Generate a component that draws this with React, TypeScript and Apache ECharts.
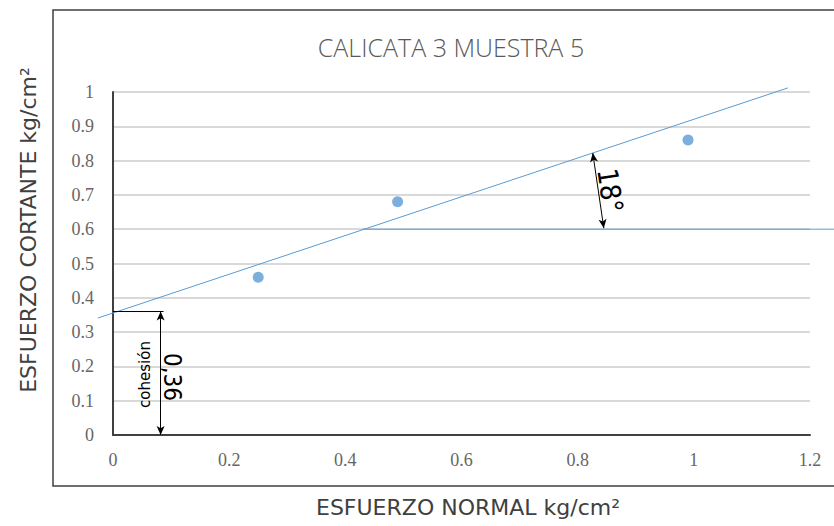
import React, { useEffect, useRef } from "react";
import * as echarts from "echarts";

const normalStress = [0.25, 0.49, 0.99];
const shearStress = [0.46, 0.68, 0.86];
const trendX = [-0.026, 1.162];
const trendY = [0.341, 1.012];
const horizX = [0.43, 1.245];
const horizY = [0.6, 0.6];
const cohesion = 0.36;
const bracketX = 0.082;
const angleArrowStart = [0.826, 0.822];
const angleArrowEnd = [0.845, 0.603];
const angleLabel = "18°";
const cohesionLabel = "0,36";

const BLUE = "#5b9bd5";
const GRAY = "#595959";

export default function App() {
  const ref = useRef<HTMLDivElement>(null);
  useEffect(() => {
    document.body.style.margin = "0";
    const chart = echarts.init(ref.current!, null, { renderer: "svg" });
    chart.setOption({
      animation: false,
      backgroundColor: "#ffffff",
      grid: { left: 113, right: 24, top: 92, bottom: 91 },
      xAxis: {
        type: "value",
        min: 0,
        max: 1.2,
        interval: 0.2,
        axisLine: { show: true, onZero: false, lineStyle: { color: "#404040", width: 2 } },
        axisTick: { show: false },
        splitLine: { show: false },
        axisLabel: {
          color: "#666666",
          fontFamily: "'Liberation Serif', serif",
          fontSize: 18,
          margin: 16,
          formatter: (v: number) => String(Math.round(v * 10) / 10),
        },
      },
      yAxis: {
        type: "value",
        min: 0,
        max: 1,
        interval: 0.1,
        axisLine: { show: true, lineStyle: { color: "#404040", width: 2 } },
        axisTick: { show: false },
        splitLine: { show: true, lineStyle: { color: "#d9d9d9", width: 2 } },
        axisLabel: {
          color: "#666666",
          fontFamily: "'Liberation Serif', serif",
          fontSize: 18,
          margin: 19,
          formatter: (v: number) => String(Math.round(v * 10) / 10),
        },
      },
      series: [
        {
          type: "line",
          data: [
            [0, cohesion],
            [bracketX + 0.005, cohesion],
          ],
          symbol: "none",
          lineStyle: { color: "#000", width: 1 },
          z: 4,
          markLine: {
            silent: true,
            symbol: ["arrow", "arrow"],
            symbolSize: [6, 9],
            label: { show: false },
            lineStyle: { color: "#000", width: 1, type: "solid" },
            data: [
              [{ coord: [bracketX, cohesion] }, { coord: [bracketX, 0] }],
              [{ coord: angleArrowStart }, { coord: angleArrowEnd }],
            ],
          },
        },
        {
          type: "scatter",
          data: normalStress.map((x, i) => [x, shearStress[i]]),
          symbol: "circle",
          symbolSize: 11,
          itemStyle: { color: BLUE },
          z: 5,
        },
      ],
    });

    const p = (pt: number[]) => chart.convertToPixel({ gridIndex: 0 }, pt) as number[];
    const cohTextPos = p([bracketX * 0.67, cohesion * 0.49]);
    const valPos = p([bracketX + 0.02, cohesion * 0.47]);
    const angPos = p([
      (angleArrowStart[0] + angleArrowEnd[0]) / 2 + 0.02,
      (angleArrowStart[1] + angleArrowEnd[1]) / 2,
    ]);
    const trendPts = trendX.map((x, i) => p([x, trendY[i]]));
    const horizPts = horizX.map((x, i) => p([x, horizY[i]]));

    chart.setOption({
      graphic: [
        {
          type: "rect",
          shape: { x: 53, y: 10, width: 800, height: 476 },
          style: { fill: "none", stroke: "#404040", lineWidth: 1.5 },
          silent: true,
        },
        {
          type: "polyline",
          shape: { points: trendPts },
          style: { stroke: BLUE, lineWidth: 1, fill: "none" },
          z: 3,
        },
        {
          type: "polyline",
          shape: { points: horizPts },
          style: { stroke: BLUE, lineWidth: 1, fill: "none" },
          z: 3,
        },
        {
          type: "text",
          x: 451,
          y: 47,
          style: {
            text: "CALICATA 3 MUESTRA 5",
            fill: GRAY,
            font: "300 25px 'Open Sans', sans-serif",
            align: "center",
            verticalAlign: "middle",
          },
        },
        {
          type: "text",
          x: 468,
          y: 507,
          style: {
            text: "ESFUERZO NORMAL kg/cm²",
            fill: "#404040",
            font: "22px 'DejaVu Sans', sans-serif",
            align: "center",
            verticalAlign: "middle",
          },
        },
        {
          type: "text",
          x: 28,
          y: 230,
          rotation: Math.PI / 2,
          style: {
            text: "ESFUERZO CORTANTE kg/cm²",
            fill: "#404040",
            font: "22px 'DejaVu Sans', sans-serif",
            align: "center",
            verticalAlign: "middle",
          },
        },
        {
          type: "text",
          x: cohTextPos[0],
          y: cohTextPos[1],
          rotation: Math.PI / 2,
          style: {
            text: "cohesión",
            fill: "#000",
            font: "15px 'DejaVu Sans', sans-serif",
            align: "center",
            verticalAlign: "middle",
          },
        },
        {
          type: "text",
          x: valPos[0],
          y: valPos[1],
          rotation: -Math.PI / 2,
          style: {
            text: cohesionLabel,
            fill: "#000",
            font: "24px 'DejaVu Sans Condensed', sans-serif",
            align: "center",
            verticalAlign: "middle",
          },
        },
        {
          type: "text",
          x: angPos[0],
          y: angPos[1],
          rotation: -(81.6 * Math.PI) / 180,
          style: {
            text: angleLabel,
            fill: "#000",
            font: "28px 'DejaVu Sans Condensed', sans-serif",
            align: "center",
            verticalAlign: "middle",
          },
        },
      ],
    });

    return () => chart.dispose();
  }, []);
  return <div ref={ref} style={{ width: 834, height: 526 }} />;
}
